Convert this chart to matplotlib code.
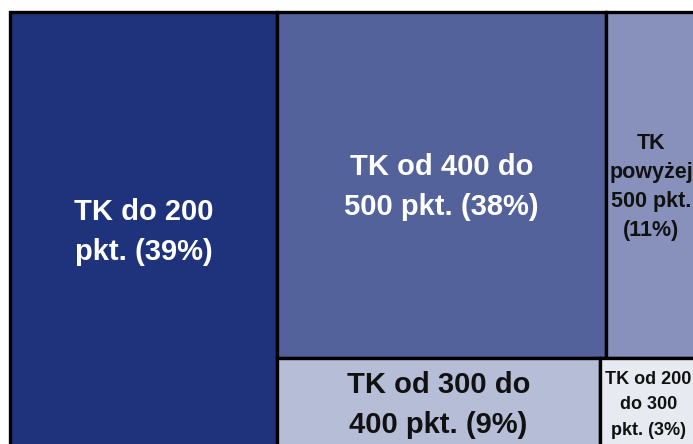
import matplotlib
matplotlib.use("Agg")
import matplotlib.pyplot as plt
from matplotlib.patches import Rectangle

plt.rcParams["font.family"] = ["Liberation Sans", "DejaVu Sans"]

# values (share of area), labels as shown
labels = [
    "TK do 200\npkt. (39%)",
    "TK od 400 do\n500 pkt. (38%)",
    "TK\npowyżej\n500 pkt.\n(11%)",
    "TK od 300 do\n400 pkt. (9%)",
    "TK od 200\ndo 300\npkt. (3%)",
]
values = [39.2, 38.2, 10.6, 9.75, 2.95]
colors = ["#1f337c", "#53629b", "#8791bb", "#b5bdd7", "#e8eaf2"]
text_colors = ["white", "white", "#111111", "#111111", "#111111"]
font_sizes = [21, 21, 15.5, 21, 13]
line_spacings = [1.57, 1.57, 1.49, 1.57, 1.62]

fig = plt.figure(figsize=(6.93, 4.44), dpi=100)
ax = fig.add_axes([0, 0, 1, 1])
ax.set_xlim(0, 693)
ax.set_ylim(444, 0)
ax.axis("off")

# treemap frame (runs slightly past the cropped picture)
x0, y0, W, H = 10, 12, 687, 436
total = sum(values)

# slice-and-dice: first item is a full-height column, the rest in two rows
rects = []
w1 = values[0] / total * W
rects.append((x0, y0, w1, H))
rest_w = W - w1
top = values[1:3]
bottom = values[3:5]
rest_total = sum(top) + sum(bottom)
h_top = sum(top) / rest_total * H
for row, ry, rh in [(top, y0, h_top), (bottom, y0 + h_top, H - h_top)]:
    cx = x0 + w1
    for v in row:
        rw = v / sum(row) * rest_w
        rects.append((cx, ry, rw, rh))
        cx += rw

for (x, y, w, h), lab, c, tc, fs, ls in zip(rects, labels, colors, text_colors,
                                           font_sizes, line_spacings):
    ax.add_patch(Rectangle((x, y), w, h, facecolor=c, edgecolor="black", linewidth=2.4))
    ax.text(x + w / 2, y + h / 2 + 2, lab, ha="center", va="center", color=tc,
            fontsize=fs, fontweight="bold", linespacing=ls)

fig.savefig("out.png", dpi=100)
